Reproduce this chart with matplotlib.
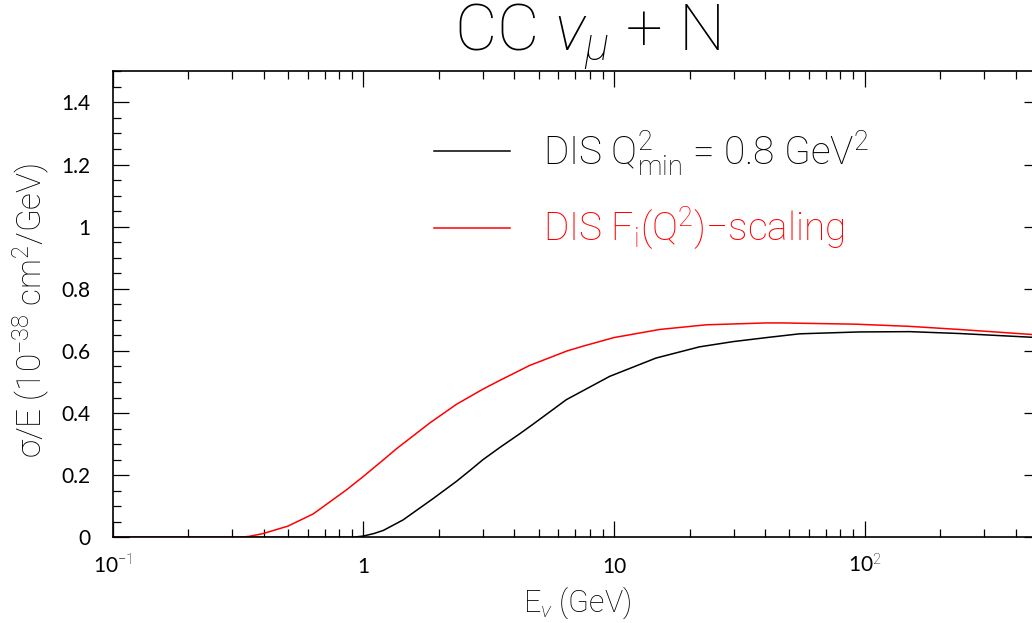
import matplotlib
matplotlib.use("Agg")
import matplotlib.pyplot as plt
from matplotlib.ticker import FixedLocator, FixedFormatter, MultipleLocator, NullFormatter, LogLocator

plt.rcParams['font.family'] = ['Lato', 'DejaVu Sans']
plt.rcParams['font.weight'] = 'normal'
plt.rcParams['mathtext.fontset'] = 'custom'
plt.rcParams['mathtext.rm'] = 'Roboto:light'
plt.rcParams['mathtext.it'] = 'Roboto:light:italic'
plt.rcParams['mathtext.bf'] = 'Roboto:bold'
plt.rcParams['mathtext.sf'] = 'Roboto:light'

# ---- data ----
E_qmin = [0.1, 0.9, 1.0, 1.1, 1.2, 1.44, 1.9, 2.35, 2.65, 3.0, 3.5, 4.2, 4.75,
          6.45, 9.6, 14.7, 21.9, 29.9, 41.7, 55, 95, 151, 238, 461, 500]
sig_qmin = [0, 0, 0.004, 0.012, 0.022, 0.056, 0.125, 0.18, 0.214, 0.250, 0.289,
            0.333, 0.364, 0.443, 0.518, 0.577, 0.613, 0.630, 0.644, 0.655, 0.661,
            0.662, 0.656, 0.644, 0.643]

E_scal = [0.1, 0.32, 0.35, 0.398, 0.5, 0.63, 0.857, 1.0, 1.2, 1.355, 1.84, 2.35,
          3.0, 3.5, 4.6, 6.5, 7.5, 10, 11.2, 15.2, 23.3, 40.4, 47, 92, 151, 238,
          461, 500]
sig_scal = [0, 0, 0.003, 0.012, 0.036, 0.075, 0.153, 0.196, 0.249, 0.285, 0.368,
            0.428, 0.477, 0.505, 0.553, 0.600, 0.615, 0.643, 0.650, 0.669, 0.684,
            0.690, 0.690, 0.686, 0.679, 0.669, 0.653, 0.651]

labels = [r"DIS Q$^{2}_{\mathrm{min}}$ = 0.8 GeV$^{2}$",
          r"DIS F$_{\mathrm{i}}$(Q$^{2}$)$-$scaling"]
colors = ["black", "#ff0000"]

x_major = [0.1, 1, 10, 100]
x_major_labels = [r"10$^{-1}$", "1", "10", r"10$^{2}$"]
y_major = [0, 0.2, 0.4, 0.6, 0.8, 1.0, 1.2, 1.4]
y_major_labels = ["0", "0.2", "0.4", "0.6", "0.8", "1", "1.2", "1.4"]

title = r"CC $\nu_{\mu}$ + N"
xlabel = r"E$_{\nu}$ (GeV)"
ylabel = r"σ/E (10$^{-38}$ cm$^{2}$/GeV)"

light = {'family': ['Roboto', 'DejaVu Sans'], 'weight': 'light'}

# ---- figure ----
W, H = 1032, 623
fig = plt.figure(figsize=(W / 100, H / 100), dpi=100)
ax_l, ax_r, ax_t, ax_b = 112.7, 1040.0, 71.3, 537.3
ax = fig.add_axes([ax_l / W, 1 - ax_b / H, (ax_r - ax_l) / W, (ax_b - ax_t) / H])

ax.plot(E_qmin, sig_qmin, color=colors[0], lw=1.1, label=labels[0])
ax.plot(E_scal, sig_scal, color=colors[1], lw=1.1, label=labels[1])

ax.set_xscale('log')
ax.set_xlim(0.1, 500)
ax.set_ylim(0, 1.5)

ax.xaxis.set_major_locator(FixedLocator(x_major))
ax.xaxis.set_major_formatter(FixedFormatter(x_major_labels))
ax.xaxis.set_minor_locator(LogLocator(base=10, subs=range(2, 10), numticks=20))
ax.xaxis.set_minor_formatter(NullFormatter())
ax.yaxis.set_major_locator(FixedLocator(y_major))
ax.yaxis.set_major_formatter(FixedFormatter(y_major_labels))
ax.yaxis.set_minor_locator(MultipleLocator(0.05))

for s in ax.spines.values():
    s.set_linewidth(1.2)
ax.tick_params(which='both', direction='in', top=True, right=True, width=0.9,
               labelsize=15)
ax.tick_params(which='major', length=11.3)
ax.tick_params(which='minor', length=5.8)
ax.tick_params(axis='y', which='major', pad=16)
ax.tick_params(axis='x', which='major', pad=25.5)
for t in ax.xaxis.get_major_ticks():
    t.label1.set_verticalalignment('baseline')

ax.set_xlabel(xlabel, fontsize=22, **light)
ax.xaxis.set_label_coords(577 / W, 1 - 612 / H, transform=fig.transFigure)
ax.xaxis.label.set_verticalalignment('baseline')
ax.set_ylabel(ylabel, fontsize=24, **light)
ax.yaxis.set_label_coords(31 / W, 1 - 310 / H, transform=fig.transFigure)
ax.yaxis.label.set_verticalalignment('center')

fig.text(587 / W, 1 - 51 / H, title, fontsize=47, ha='center', va='baseline',
         **light)

leg = ax.legend(loc='center left', bbox_to_anchor=(434 / W, 1 - 190.5 / H),
                bbox_transform=fig.transFigure, frameon=False,
                prop={'family': ['Roboto', 'DejaVu Sans'], 'weight': 'light',
                      'size': 28},
                handlelength=1.95, handletextpad=0.85, labelspacing=0.7,
                borderpad=0, borderaxespad=0, labelcolor='linecolor')

fig.savefig("out.png", dpi=100)
